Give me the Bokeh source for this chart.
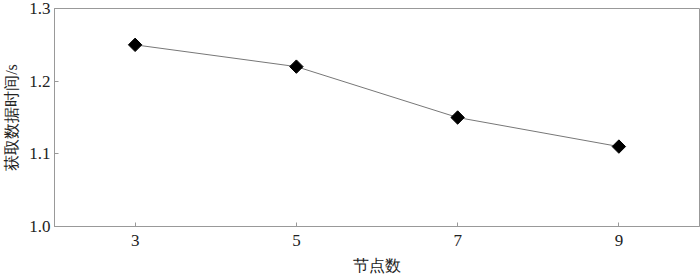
import math
from bokeh.plotting import figure
from bokeh.models import Range1d, FixedTicker, NumeralTickFormatter
from bokeh.embed import file_html
from bokeh.resources import INLINE

nodes = [3, 5, 7, 9]
times = [1.25, 1.22, 1.15, 1.11]
x_ticks = [3, 5, 7, 9]
y_ticks = [1.0, 1.1, 1.2, 1.3]

FONT = "Liberation Serif"

p = figure(width=700, height=276, output_backend="svg", toolbar_location=None,
           x_range=Range1d(2, 10), y_range=Range1d(1.0, 1.3),
           min_border_left=54, min_border_right=1, min_border_top=8, min_border_bottom=47)

p.line(nodes, times, line_color="#777777", line_width=1)
p.scatter(nodes, times, marker="square", angle=math.pi / 4, size=9.5,
          fill_color="black", line_color="black")

p.grid.visible = False
p.outline_line_color = "#999999"
p.outline_line_width = 1

for ax in (p.xaxis[0], p.yaxis[0]):
    ax.axis_line_color = "#999999"
    ax.major_tick_line_color = "#999999"
    ax.major_tick_in = 4
    ax.major_tick_out = 0
    ax.minor_tick_line_color = None
    ax.major_label_text_font = FONT
    ax.major_label_text_font_size = "17px"
    ax.major_label_text_color = "#222222"
    ax.axis_label_text_font = FONT
    ax.axis_label_text_font_size = "16px"
    ax.axis_label_text_font_style = "normal"
    ax.axis_label_text_color = "#222222"

p.xaxis.ticker = FixedTicker(ticks=x_ticks)
p.yaxis.ticker = FixedTicker(ticks=y_ticks)
p.yaxis.formatter = NumeralTickFormatter(format="0.0")
p.yaxis[0].major_label_standoff = 4
p.xaxis[0].major_label_standoff = 8
p.xaxis.axis_label = "节点数"
p.yaxis.axis_label = "获取数据时间/s"
p.xaxis[0].axis_label_standoff = 8
p.yaxis[0].axis_label_standoff = 6

open("out.html", "w").write(file_html(p, INLINE))
